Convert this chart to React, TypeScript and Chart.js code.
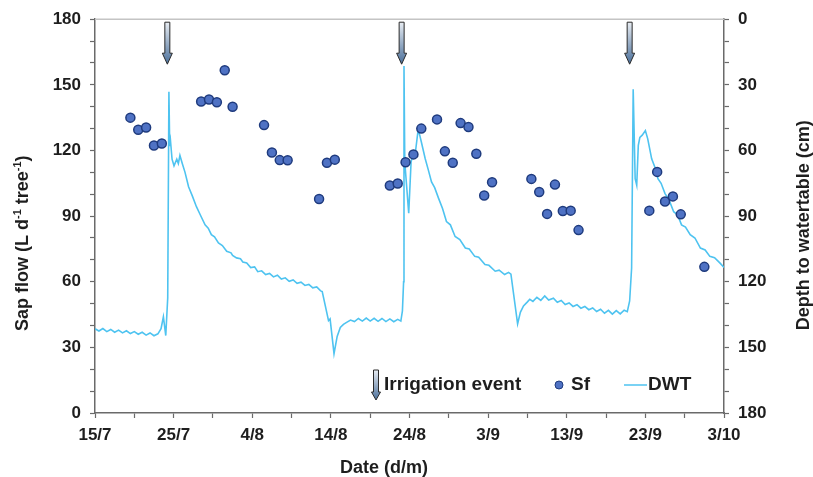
import React, { useEffect, useRef } from "react";
import { Chart, registerables } from "chart.js";

Chart.register(...registerables);

// X axis: days since 15 July
const dateTickLabels = ["15/7", "25/7", "4/8", "14/8", "24/8", "3/9", "13/9", "23/9", "3/10"];

// Irrigation events (days since 15/7)
const irrigationDays = [9.2, 39.0, 68.0];

// Sap flow (L d-1 tree-1)
const sfDays = [4.5, 5.5, 6.5, 7.5, 8.5, 13.5, 14.5, 15.5, 16.5, 17.5, 21.5, 22.5, 23.5, 24.5, 28.5, 29.5, 30.5,
  37.5, 38.5, 39.5, 40.5, 41.5, 43.5, 44.5, 45.5, 46.5, 47.5, 48.5, 49.5, 50.5, 55.5, 56.5, 57.5, 58.5, 59.5,
  60.5, 61.5, 70.5, 71.5, 72.5, 73.5, 74.5, 77.5];
const sfValues = [135, 129.5, 130.5, 122.3, 123.2, 142.4, 143.3, 142, 156.7, 140, 131.6, 119.1, 115.6, 115.5, 97.8,
  114.4, 115.8, 104, 104.9, 114.6, 118.2, 130, 134.2, 119.6, 114.4, 132.5, 130.7, 118.5, 99.4, 105.5, 107, 101, 91,
  104.4, 92.3, 92.5, 83.6, 92.5, 110.2, 96.7, 99, 90.8, 66.8];

// Depth to watertable (cm)
const dwtDays = [0, 0.5, 1, 1.5, 2, 2.5, 3, 3.5, 4, 4.5, 5, 5.5, 6, 6.5, 7, 7.5, 8, 8.4, 8.7, 9.0, 9.25, 9.4,
  9.5, 9.6, 9.8, 10.05, 10.4, 10.6, 10.8, 11.1, 11.45, 11.9, 12.4, 12.9, 13.4, 14.0, 14.4, 14.8, 15.2, 15.7, 16.2,
  16.75, 17.3, 17.5, 18, 18.5, 18.8, 19.3, 19.8, 20.3, 20.7, 21.2, 21.7, 22.2, 22.7, 23.2, 23.7, 24.2, 24.7, 25.2,
  25.7, 26.2, 26.7, 27.2, 27.7, 28.2, 28.7, 28.9, 29.7, 29.9, 30.4, 30.8, 31.2, 31.6, 32.0, 32.5, 33.0, 33.5, 34.0,
  34.5, 35.0, 35.5, 36.0, 36.5, 37.0, 37.5, 38.0, 38.5, 38.9, 39.1, 39.25, 39.3, 39.4, 39.9, 40.2, 40.5, 40.7,
  41.1, 41.3, 41.5, 42.0, 42.4, 42.8, 43.2, 43.7, 44.2, 44.7, 45.2, 45.8, 46.4, 47.1, 47.6, 48.3, 48.8, 49.6, 50.1,
  50.9, 51.4, 52.1, 52.6, 52.9, 53.75, 54.1, 54.5, 55.0, 55.3, 55.7, 56.2, 56.7, 57.2, 57.7, 58.3, 58.8, 59.3,
  59.8, 60.3, 60.8, 61.3, 61.8, 62.3, 62.8, 63.3, 63.8, 64.3, 64.8, 65.3, 65.8, 66.3, 66.8, 67.3, 67.7, 68.0,
  68.25, 68.45, 68.7, 68.9, 69.1, 69.3, 69.6, 70.0, 70.3, 70.8, 71.2, 71.6, 72.0, 72.5, 73.0, 73.6, 74.1, 74.6,
  75.1, 75.7, 76.3, 77.0, 77.6, 78.2, 78.8, 79.5, 80.0];
const dwtDepth = [141.5, 142.5, 141.4, 142.8, 141.8, 143.1, 142.1, 143.4, 142.4, 143.7, 142.8, 144.0, 143.1, 144.4,
  143.4, 144.7, 143.8, 141.5, 136, 144.6, 127.3, 33.2,
  58, 55.5, 64, 67, 64, 66, 62.3, 66, 70, 76.6, 81, 85.7, 89.5, 94, 95.5, 98.5, 99.5, 102.3, 103.5,
  106.1, 106.8, 108, 109.1, 109.5, 111, 111.4, 113.5, 113.2, 115.4, 115, 116.7, 116.2, 117.8, 117, 118.8, 118.2, 119.8, 119.2,
  120.7, 120.2, 121.7, 121.2, 122.8, 122.4, 124.2, 124.5, 137.8, 137, 152.9, 145, 140.9, 139.5, 138.6, 137.5, 138.2, 136.8, 138,
  136.6, 138, 136.7, 138.1, 136.8, 138.2, 137, 138.3, 137.2, 138, 133.3, 120, 21.4, 65.3, 88.7, 65.3, 60.8, 62.3,
  50.5, 53, 56, 63.8, 69, 74.4, 77, 81.9, 86.5, 92.5, 94, 99.3, 100.7, 104.6, 105, 108.4, 108.8, 112.1, 112.5,
  115.2, 114.7, 116.7, 115.7, 116.5, 139.3, 134, 131.1, 129.2, 128, 129, 127.1, 128.5, 126.5, 128.4, 127.5, 129.4, 128.6,
  130.4, 129.7, 131.3, 130.5, 132.1, 131.3, 132.8, 132, 133.6, 132.6, 134.4, 133.1, 134.8, 133.2, 134.7, 133, 133.7, 128.8,
  113.7, 32, 72.9, 75.9, 57.7, 54, 53, 50.9, 54.7, 63.8, 67.5, 72.9, 75, 79.7, 82.5, 88, 89.5, 94,
  95, 98.5, 100, 104.6, 105.5, 108.4, 109, 111.5, 113.5];

const FONT = "'Liberation Sans', Arial, sans-serif";
const AXIS_COLOR = "#6a6a6a";
const TEXT_COLOR = "#1e1e1e";
const DWT_COLOR = "#4ec3f0";
const SF_FILL = "#4f72c4";
const SF_BORDER = "#1f3b7e";

function drawArrow(ctx: CanvasRenderingContext2D, cx: number, top: number, len: number, sw: number, hw: number, hl: number) {
  const g = ctx.createLinearGradient(0, top, 0, top + len);
  g.addColorStop(0, "#e8edf3");
  g.addColorStop(1, "#4a6f9a");
  ctx.beginPath();
  ctx.moveTo(cx - sw / 2, top);
  ctx.lineTo(cx + sw / 2, top);
  ctx.lineTo(cx + sw / 2, top + len - hl);
  ctx.lineTo(cx + hw / 2, top + len - hl);
  ctx.lineTo(cx, top + len);
  ctx.lineTo(cx - hw / 2, top + len - hl);
  ctx.lineTo(cx - sw / 2, top + len - hl);
  ctx.closePath();
  ctx.fillStyle = g;
  ctx.fill();
  ctx.strokeStyle = "#2a2a2a";
  ctx.lineWidth = 1;
  ctx.stroke();
}

// draws rich text (with superscripts) centred at origin
function drawRich(ctx: CanvasRenderingContext2D, parts: { t: string; sup?: boolean }[], size: number) {
  const supSize = Math.round(size * 0.62);
  const widths = parts.map((p) => {
    ctx.font = `bold ${p.sup ? supSize : size}px ${FONT}`;
    return ctx.measureText(p.t).width;
  });
  const total = widths.reduce((a, b) => a + b, 0);
  let x = -total / 2;
  ctx.textAlign = "left";
  ctx.textBaseline = "alphabetic";
  parts.forEach((p, i) => {
    ctx.font = `bold ${p.sup ? supSize : size}px ${FONT}`;
    ctx.fillText(p.t, x, p.sup ? size * 0.36 - size * 0.42 : size * 0.36);
    x += widths[i];
  });
}

const overlayPlugin = {
  id: "overlay",
  afterDraw(chart: any) {
    const { ctx, chartArea, scales } = chart;
    const xs = scales.x;
    ctx.save();
    // top border
    ctx.strokeStyle = "#c4c4c4";
    ctx.lineWidth = 1.5;
    ctx.beginPath();
    ctx.moveTo(chartArea.left, chartArea.top);
    ctx.lineTo(chartArea.right, chartArea.top);
    ctx.stroke();
    // irrigation arrows
    irrigationDays.forEach((d) => {
      drawArrow(ctx, xs.getPixelForValue(d), chartArea.top + 3, 42, 5, 10, 11);
    });
    // legend
    const ly = chartArea.bottom - 28;
    const lx = chartArea.left;
    drawArrow(ctx, lx + 281, ly - 15, 30, 5, 9, 8);
    ctx.font = `bold 19px ${FONT}`;
    ctx.fillStyle = TEXT_COLOR;
    ctx.textBaseline = "middle";
    ctx.textAlign = "left";
    ctx.fillText("Irrigation event", lx + 289, ly);
    ctx.beginPath();
    ctx.arc(lx + 464, ly, 4, 0, Math.PI * 2);
    ctx.fillStyle = SF_FILL;
    ctx.fill();
    ctx.strokeStyle = SF_BORDER;
    ctx.lineWidth = 1;
    ctx.stroke();
    ctx.fillStyle = TEXT_COLOR;
    ctx.fillText("Sf", lx + 476, ly);
    ctx.strokeStyle = DWT_COLOR;
    ctx.lineWidth = 1.5;
    ctx.beginPath();
    ctx.moveTo(lx + 529, ly);
    ctx.lineTo(lx + 552, ly);
    ctx.stroke();
    ctx.fillText("DWT", lx + 553, ly);

    // axis titles
    ctx.fillStyle = TEXT_COLOR;
    ctx.save();
    ctx.translate(chartArea.left - 73, chartArea.top + 224);
    ctx.rotate(-Math.PI / 2);
    drawRich(ctx, [{ t: "Sap flow (L d" }, { t: "-1", sup: true }, { t: " tree" }, { t: "-1", sup: true }, { t: ")" }], 18);
    ctx.restore();
    ctx.save();
    ctx.translate(chartArea.right + 79, chartArea.top + 206);
    ctx.rotate(-Math.PI / 2);
    drawRich(ctx, [{ t: "Depth to watertable (cm)" }], 18);
    ctx.restore();
    ctx.save();
    ctx.translate(chartArea.left + 289, chartArea.bottom + 54);
    drawRich(ctx, [{ t: "Date (d/m)" }], 18);
    ctx.restore();
    ctx.restore();
  },
};

export default function App() {
  const ref = useRef<HTMLCanvasElement | null>(null);
  useEffect(() => {
    if (!ref.current) return;
    const tickFont = { family: FONT, size: 17, weight: "bold" as const };
    const chart = new Chart(ref.current, {
      type: "scatter",
      data: {
        datasets: [
          {
            label: "Sf",
            data: sfDays.map((d, i) => ({ x: d, y: sfValues[i] })),
            yAxisID: "y",
            pointRadius: 4.5,
            pointBackgroundColor: SF_FILL,
            pointBorderColor: SF_BORDER,
            pointBorderWidth: 1.5,
            showLine: false,
            order: 0,
          },
          {
            type: "line",
            label: "DWT",
            data: dwtDays.map((d, i) => ({ x: d, y: dwtDepth[i] })),
            yAxisID: "y2",
            borderColor: DWT_COLOR,
            borderWidth: 1.6,
            pointRadius: 0,
            tension: 0,
            fill: false,
            order: 1,
          } as any,
        ],
      },
      options: {
        animation: false,
        responsive: true,
        maintainAspectRatio: false,
        layout: { padding: { top: 16, left: 0, right: 0, bottom: 0 } },
        plugins: { legend: { display: false }, tooltip: { enabled: false } },
        scales: {
          x: {
            type: "linear",
            min: 0,
            max: 80,
            afterFit: (s: any) => { s.height = 64; },
            ticks: {
              stepSize: 5,
              autoSkip: false,
              maxRotation: 0,
              padding: 7,
              color: TEXT_COLOR,
              font: tickFont,
              callback: (v: any) => (Number(v) % 10 === 0 ? dateTickLabels[Number(v) / 10] : ""),
            },
            grid: { drawOnChartArea: false, tickLength: 5, tickColor: AXIS_COLOR, tickWidth: 1.2 },
            border: { display: true, color: AXIS_COLOR, width: 1.5 },
          },
          y: {
            position: "left",
            min: 0,
            max: 180,
            afterFit: (s: any) => { s.width = 95; },
            ticks: {
              stepSize: 10,
              autoSkip: false,
              padding: 9,
              color: TEXT_COLOR,
              font: tickFont,
              callback: (v: any) => (Number(v) % 30 === 0 ? String(v) : ""),
            },
            grid: { drawOnChartArea: false, tickLength: 5, tickColor: AXIS_COLOR, tickWidth: 1.2 },
            border: { display: true, color: AXIS_COLOR, width: 1.5 },
          },
          y2: {
            position: "right",
            min: 0,
            max: 180,
            reverse: true,
            afterFit: (s: any) => { s.width = 89; },
            ticks: {
              stepSize: 10,
              autoSkip: false,
              padding: 9,
              color: TEXT_COLOR,
              font: tickFont,
              callback: (v: any) => (Number(v) % 30 === 0 ? String(v) : ""),
            },
            grid: { drawOnChartArea: false, tickLength: 5, tickColor: AXIS_COLOR, tickWidth: 1.2 },
            border: { display: true, color: AXIS_COLOR, width: 1.5 },
          },
        },
      },
      plugins: [overlayPlugin],
    });
    return () => chart.destroy();
  }, []);
  return (
    <div style={{ position: "fixed", left: 0, top: 0, width: 813, height: 477, background: "#fff" }}>
      <canvas ref={ref} />
    </div>
  );
}
